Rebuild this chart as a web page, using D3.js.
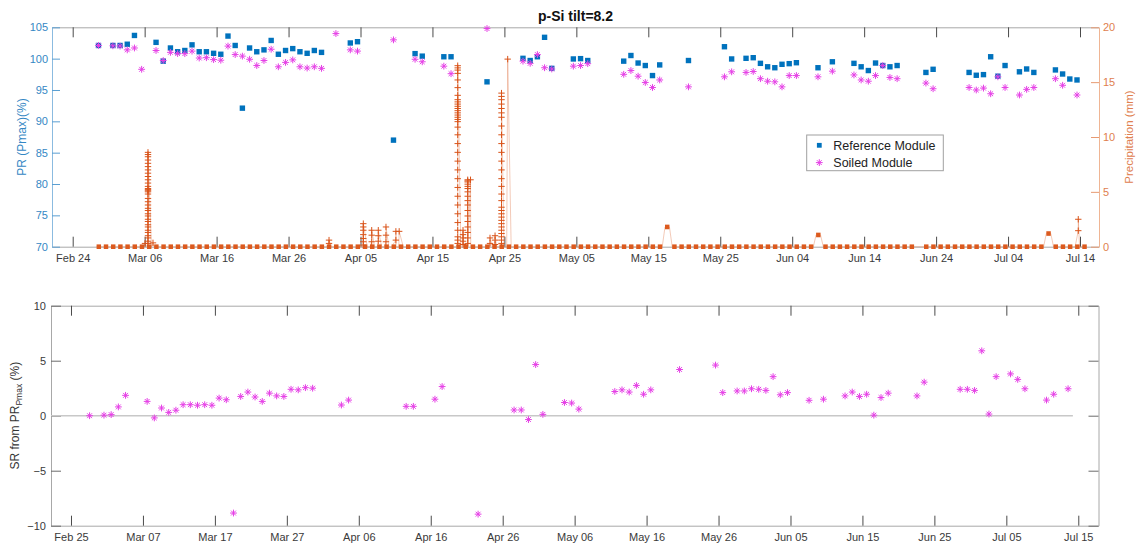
<!DOCTYPE html>
<html>
<head>
<meta charset="utf-8">
<script src="https://cdn.jsdelivr.net/npm/d3@7"></script>
<style>
  body { margin: 0; background: #fff; }
  svg { display: block; }
  text { font-family: "Liberation Sans", Arial, Helvetica, sans-serif; }
</style>
</head>
<body>
<svg id="chart" width="1137" height="544"></svg>
<script>
// ---------------- data ----------------
// daily PR measurements (time of day added below)
const sampleDates = ["2019-02-27","2019-03-01","2019-03-02","2019-03-03","2019-03-04","2019-03-05","2019-03-07","2019-03-08","2019-03-09","2019-03-10","2019-03-11","2019-03-12","2019-03-13","2019-03-14","2019-03-15","2019-03-16","2019-03-17","2019-03-18","2019-03-19","2019-03-20","2019-03-21","2019-03-22","2019-03-23","2019-03-24","2019-03-25","2019-03-26","2019-03-27","2019-03-28","2019-03-29","2019-03-30","2019-04-01","2019-04-03","2019-04-04","2019-04-09","2019-04-12","2019-04-13","2019-04-16","2019-04-17","2019-04-22","2019-04-27","2019-04-28","2019-04-29","2019-04-30","2019-05-01","2019-05-04","2019-05-05","2019-05-06","2019-05-11","2019-05-12","2019-05-13","2019-05-14","2019-05-15","2019-05-16","2019-05-20","2019-05-25","2019-05-26","2019-05-28","2019-05-29","2019-05-30","2019-05-31","2019-06-01","2019-06-02","2019-06-03","2019-06-04","2019-06-07","2019-06-09","2019-06-12","2019-06-13","2019-06-14","2019-06-15","2019-06-16","2019-06-17","2019-06-18","2019-06-22","2019-06-23","2019-06-28","2019-06-29","2019-06-30","2019-07-01","2019-07-02","2019-07-03","2019-07-05","2019-07-06","2019-07-07","2019-07-10","2019-07-11","2019-07-12","2019-07-13"];

const refPR = [102.1,102.1,102.1,102.3,103.7,null,102.6,99.6,101.7,101.1,101.3,102.2,101.1,101.1,100.85,100.7,103.6,102.1,92.1,101.7,101.1,101.4,102.9,100.7,101.3,101.6,101.1,100.85,101.3,101.0,null,102.5,102.7,87.0,100.8,100.4,100.3,100.3,96.3,100.05,99.7,100.3,103.4,98.45,99.95,100.0,99.7,99.6,100.5,99.3,98.9,97.3,99.0,99.7,101.9,99.95,100.05,100.15,99.25,98.7,98.55,99.1,99.2,99.35,98.55,99.5,99.25,98.7,98.1,99.3,98.9,98.7,98.9,97.8,98.3,97.8,97.35,97.45,100.3,97.2,98.9,97.9,98.35,97.8,98.2,97.55,96.75,96.6];

const soiledPR = [102.1,102.05,102.0,101.4,101.7,98.3,101.3,99.7,101.0,100.8,100.8,101.2,100.1,100.15,99.85,99.75,102.0,100.65,100.4,99.9,98.9,99.7,101.5,98.7,99.4,99.8,98.7,98.5,98.7,98.45,104.0,101.4,101.2,103.0,99.9,99.5,98.8,97.6,104.8,99.6,99.25,100.65,98.55,98.35,98.8,98.9,99.2,97.5,98.1,97.2,96.2,95.4,96.6,95.5,97.1,97.9,97.8,97.95,96.8,96.4,96.3,95.5,97.3,97.3,97.1,98.0,97.4,96.6,96.4,97.3,98.9,97.0,96.8,96.1,95.2,95.4,95.0,95.3,94.4,97.1,95.4,94.2,95.1,95.4,96.8,95.75,null,94.2];

// soiling ratio relative to PR_Pmax (%)
const srDates = ["2019-02-27","2019-03-01","2019-03-02","2019-03-03","2019-03-04","2019-03-07","2019-03-08","2019-03-09","2019-03-10","2019-03-11","2019-03-12","2019-03-13","2019-03-14","2019-03-15","2019-03-16","2019-03-17","2019-03-18","2019-03-19","2019-03-20","2019-03-21","2019-03-22","2019-03-23","2019-03-24","2019-03-25","2019-03-26","2019-03-27","2019-03-28","2019-03-29","2019-03-30","2019-04-03","2019-04-04","2019-04-12","2019-04-13","2019-04-16","2019-04-17","2019-04-22","2019-04-27","2019-04-28","2019-04-29","2019-04-30","2019-05-01","2019-05-04","2019-05-05","2019-05-06","2019-05-11","2019-05-12","2019-05-13","2019-05-14","2019-05-15","2019-05-16","2019-05-20","2019-05-25","2019-05-26","2019-05-28","2019-05-29","2019-05-30","2019-05-31","2019-06-01","2019-06-02","2019-06-03","2019-06-04","2019-06-07","2019-06-09","2019-06-12","2019-06-13","2019-06-14","2019-06-15","2019-06-16","2019-06-17","2019-06-18","2019-06-22","2019-06-23","2019-06-28","2019-06-29","2019-06-30","2019-07-01","2019-07-02","2019-07-03","2019-07-05","2019-07-06","2019-07-07","2019-07-10","2019-07-11","2019-07-13"];

const srValues = [0.0,0.05,0.1,0.8,1.85,1.3,-0.2,0.7,0.3,0.5,1.0,1.0,0.95,1.0,0.95,1.6,1.45,-8.85,1.75,2.15,1.7,1.3,2.05,1.8,1.75,2.4,2.35,2.55,2.5,0.97,1.42,0.85,0.85,1.5,2.65,-8.95,0.52,0.52,-0.35,4.65,0.12,1.2,1.15,0.6,2.2,2.35,2.15,2.75,1.95,2.35,4.2,4.6,2.1,2.25,2.25,2.45,2.4,2.3,3.55,1.9,2.1,1.4,1.5,1.8,2.15,1.75,1.95,0.05,1.65,2.05,1.8,3.05,2.4,2.4,2.3,5.9,0.15,3.55,3.8,3.3,2.45,1.42,1.95,2.45];

// precipitation record: one block of readings per day
const precipFirstDay = "2019-02-27";
const precipLastDay = "2019-07-14";
const precipMissingDays = ["2019-06-21"];
const precipLevelDays = ["2019-05-17", "2019-06-07", "2019-07-09"];
const precipLevelValues = [1.8, 1.07, 1.2];

// rain events: readings (mm) logged at the given time
const rainTimes = ["2019-03-06T01:10","2019-03-06T11:10","2019-03-07T03:50","2019-03-31T15:00","2019-04-05T09:20","2019-04-06T13:25","2019-04-07T11:20","2019-04-08T13:00","2019-04-09T22:00","2019-04-10T09:00","2019-04-18T12:15","2019-04-19T06:00","2019-04-19T21:36","2019-04-20T07:00","2019-04-23T00:00","2019-04-23T16:50","2019-04-24T14:20","2019-04-25T11:00","2019-07-13T18:15"];
const rainReadings = [
  [0.3],
  [0.3,0.5,0.8,1.0,1.3,1.5,1.8,2.0,2.3,2.5,2.8,3.0,3.3,3.5,3.8,4.1,4.4,4.8,5.0,5.1,5.2,5.3,5.5,5.8,6.1,6.4,6.7,7.0,7.3,7.6,7.9,8.2,8.4,8.6],
  [0.35],
  [0.3,0.6],
  [0.15,0.45,0.75,1.1,1.5,1.8,2.1],
  [0.45,1.05,1.5],
  [0.5,1.0,1.5],
  [0.45,1.05,1.8],
  [0.6,1.4],
  [1.4],
  [0.3,0.6,0.9,1.5,2.2,3.0,3.8,4.6,5.4,6.2,7.0,7.8,8.6,9.4,10.2,10.9,11.4,11.6,11.8,12.0,12.2,12.4,12.6,12.8,13.0,13.2,13.4,13.8,14.5,15.2,15.8,16.1,16.3,16.5],
  [0.2,0.5,0.8,1.1,1.5],
  [0.3,0.8,1.3,1.8,2.3,2.8,3.3,3.8,4.2,4.6,5.0,5.3,5.5,5.7,5.9,6.0,6.1],
  [6.1],
  [0.3,0.8],
  [0.2,0.6,1.0],
  [0.3,0.6,0.9,1.2,1.5,1.8,2.1,2.4,2.7,3.0,3.3,3.6,4.2,4.8,5.5,6.2,7.0,7.8,8.6,9.4,10.2,11.0,11.8,12.2,12.6,13.0,13.4,13.7,14.0],
  [17.1],
  [1.46,2.5]
];

// axis ticks
const topTickDates = ["2019-02-24","2019-03-06","2019-03-16","2019-03-26","2019-04-05","2019-04-15","2019-04-25","2019-05-05","2019-05-15","2019-05-25","2019-06-04","2019-06-14","2019-06-24","2019-07-04","2019-07-14"];
const bottomTickDates = ["2019-02-25","2019-03-07","2019-03-17","2019-03-27","2019-04-06","2019-04-16","2019-04-26","2019-05-06","2019-05-16","2019-05-26","2019-06-05","2019-06-15","2019-06-25","2019-07-05","2019-07-15"];
const prTicks = [70,75,80,85,90,95,100,105];
const precipTicks = [0,5,10,15,20];
const srTicks = [-10,-5,0,5,10];

// ---------------- helpers ----------------
const DAY = 864e5;
const utc = s => new Date(s.length === 10 ? s + "T00:00:00Z" : s + ":00Z");
const SAMPLE_OFFSET = 14 / 24;          // measurements taken early afternoon
const BLOCK_START = 0.32, BLOCK_END = 0.94; // logging window within a day
const fmt = d3.utcFormat("%b %d");

const C_REF = "#0072BD", C_SOIL = "#e640e6", C_RAIN = "#D95319";
const FONT = '"Liberation Sans", Arial, Helvetica, sans-serif';

const svg = d3.select("#chart");

const squarePath = "M-2.7,-2.7H2.7V2.7H-2.7Z";
const starPath = "M-3.4,0H3.4M0,-3.4V3.4M-2.4,-2.4L2.4,2.4M-2.4,2.4L2.4,-2.4";
const plusPath = "M-3.2,0H3.2M0,-3.2V3.2";

function styleAxis(g, color, size) {
  g.attr("font-family", FONT).attr("font-size", size);
  g.selectAll(".tick text").attr("fill", color);
}

// ---------------- upper panel ----------------
const upBox = { l: 52, r: 1099, t: 27.3, b: 246.7 };
const xTop = d3.scaleUtc()
  .domain([utc("2019-02-21T02:57"), utc("2019-07-16T15:22")])
  .range([upBox.l, upBox.r]);
const yPR = d3.scaleLinear().domain([70, 105]).range([upBox.b, upBox.t]);
const yRain = d3.scaleLinear().domain([0, 20]).range([upBox.b, upBox.t]);

const gTop = svg.append("g");

// frame: top border with inward ticks
gTop.append("g")
  .attr("transform", `translate(0,${upBox.t})`)
  .call(d3.axisTop(xTop).tickValues(topTickDates.map(utc)).tickFormat("").tickSizeInner(-10).tickSizeOuter(0))
  .call(g => g.select(".domain").attr("stroke", "#a8a8a8"))
  .call(g => g.selectAll(".tick line").attr("stroke", "#4a4a4a"));

// x axis
gTop.append("g")
  .attr("transform", `translate(0,${upBox.b})`)
  .call(d3.axisBottom(xTop).tickValues(topTickDates.map(utc)).tickFormat(fmt).tickSizeInner(-10).tickSizeOuter(0).tickPadding(7.5))
  .call(g => styleAxis(g, "#3a3a3a", 11))
  .call(g => g.select(".domain").attr("stroke", "#a8a8a8"))
  .call(g => g.selectAll(".tick line").attr("stroke", "#4a4a4a"));

// left PR axis
gTop.append("g")
  .attr("transform", `translate(${upBox.l},0)`)
  .call(d3.axisLeft(yPR).tickValues(prTicks).tickSizeInner(-8).tickSizeOuter(0).tickPadding(4))
  .call(g => styleAxis(g, "#3487c4", 11))
  .call(g => g.select(".domain").attr("stroke", "#8bbbe0"))
  .call(g => g.selectAll(".tick line").attr("stroke", "#5a9fd2"));

// right precipitation axis
gTop.append("g")
  .attr("transform", `translate(${upBox.r},0)`)
  .call(d3.axisRight(yRain).tickValues(precipTicks).tickSizeInner(-8).tickSizeOuter(0).tickPadding(4))
  .call(g => styleAxis(g, "#e0804f", 11))
  .call(g => g.select(".domain").attr("stroke", "#efb594"))
  .call(g => g.selectAll(".tick line").attr("stroke", "#e79a72"));

// precipitation: daily blocks + event readings joined in time order
const missing = new Set(precipMissingDays);
const levelOf = new Map(precipLevelDays.map((d, i) => [d, precipLevelValues[i]]));
const dayFmt = d3.utcFormat("%Y-%m-%d");
const blockDays = d3.utcDay.range(utc(precipFirstDay), new Date(+utc(precipLastDay) + DAY))
  .filter(d => !missing.has(dayFmt(d)))
  .map(d => ({ day: d, level: levelOf.get(dayFmt(d)) ?? 0 }));

const rainPts = [];
blockDays.forEach(b => {
  rainPts.push({ t: +b.day + BLOCK_START * DAY, v: b.level, k: 0 });
  rainPts.push({ t: +b.day + BLOCK_END * DAY, v: b.level, k: 2 });
});
rainTimes.forEach((s, i) => rainReadings[i].forEach(v => rainPts.push({ t: +utc(s), v, k: 1 })));
rainPts.sort((a, b) => a.t - b.t);

gTop.append("path")
  .datum(rainPts)
  .attr("fill", "none")
  .attr("stroke", C_RAIN)
  .attr("stroke-opacity", 0.35)
  .attr("stroke-width", 0.9)
  .attr("d", d3.line().x(p => xTop(p.t)).y(p => yRain(p.v)));

gTop.append("g").selectAll("rect")
  .data(blockDays)
  .join("rect")
  .attr("x", b => xTop(+b.day + BLOCK_START * DAY))
  .attr("width", b => xTop(+b.day + BLOCK_END * DAY) - xTop(+b.day + BLOCK_START * DAY))
  .attr("y", b => yRain(b.level) - 2.3)
  .attr("height", 4.6)
  .attr("fill", "#dc5a1e");

gTop.append("g").selectAll("path")
  .data(rainPts.filter(p => p.k === 1))
  .join("path")
  .attr("transform", p => `translate(${xTop(p.t)},${yRain(p.v)})`)
  .attr("d", plusPath)
  .attr("stroke", C_RAIN)
  .attr("stroke-width", 1)
  .attr("fill", "none");

// PR markers
const samples = sampleDates.map((s, i) => ({ t: +utc(s) + SAMPLE_OFFSET * DAY, ref: refPR[i], soil: soiledPR[i] }));

gTop.append("g").selectAll("path")
  .data(samples.filter(d => d.ref != null))
  .join("path")
  .attr("transform", d => `translate(${xTop(d.t)},${yPR(d.ref)})`)
  .attr("d", squarePath)
  .attr("fill", C_REF);

gTop.append("g").selectAll("path")
  .data(samples.filter(d => d.soil != null))
  .join("path")
  .attr("transform", d => `translate(${xTop(d.t)},${yPR(d.soil)})`)
  .attr("d", starPath)
  .attr("stroke", C_SOIL)
  .attr("stroke-width", 1)
  .attr("fill", "none");

// titles
svg.append("text")
  .attr("x", (upBox.l + upBox.r) / 2).attr("y", 20.5)
  .attr("text-anchor", "middle")
  .attr("font-size", 14).attr("font-weight", "bold").attr("fill", "#111")
  .text("p-Si tilt=8.2");

svg.append("text")
  .attr("transform", `translate(26,${(upBox.t + upBox.b) / 2}) rotate(-90)`)
  .attr("text-anchor", "middle")
  .attr("font-size", 12).attr("fill", "#3487c4")
  .text("PR (Pmax)(%)");

svg.append("text")
  .attr("transform", `translate(1133,${(upBox.t + upBox.b) / 2}) rotate(-90)`)
  .attr("text-anchor", "middle")
  .attr("font-size", 11.5).attr("fill", "#e0804f")
  .text("Precipitation (mm)");

// legend
const lg = svg.append("g").attr("transform", "translate(806.7,135)");
lg.append("rect").attr("width", 136.6).attr("height", 35.7)
  .attr("fill", "#fff").attr("stroke", "#a0a0a0").attr("stroke-width", 1);
lg.append("path").attr("transform", "translate(12.6,10.3)").attr("d", "M-2.4,-2.4H2.4V2.4H-2.4Z").attr("fill", C_REF);
lg.append("path").attr("transform", "translate(12.6,27.6)").attr("d", starPath)
  .attr("stroke", C_SOIL).attr("stroke-width", 1).attr("fill", "none");
lg.append("text").attr("x", 26.6).attr("y", 14.6).attr("font-size", 12.5).attr("fill", "#222").text("Reference Module");
lg.append("text").attr("x", 26.6).attr("y", 32).attr("font-size", 12.5).attr("fill", "#222").text("Soiled Module");

// ---------------- lower panel ----------------
const lowBox = { l: 51, r: 1098.5, t: 305.7, b: 525.7 };
const xBot = d3.scaleUtc()
  .domain([utc("2019-02-22T05:18"), utc("2019-07-17T19:26")])
  .range([lowBox.l, lowBox.r]);
const ySR = d3.scaleLinear().domain([-10, 10]).range([lowBox.b, lowBox.t]);

const gBot = svg.append("g");

gBot.append("g")
  .attr("transform", `translate(0,${lowBox.t})`)
  .call(d3.axisTop(xBot).tickValues(bottomTickDates.map(utc)).tickFormat("").tickSizeInner(-10).tickSizeOuter(0))
  .call(g => g.select(".domain").attr("stroke", "#a8a8a8"))
  .call(g => g.selectAll(".tick line").attr("stroke", "#4a4a4a"));

gBot.append("g")
  .attr("transform", `translate(0,${lowBox.b})`)
  .call(d3.axisBottom(xBot).tickValues(bottomTickDates.map(utc)).tickFormat(fmt).tickSizeInner(-10).tickSizeOuter(0).tickPadding(8))
  .call(g => styleAxis(g, "#3a3a3a", 11))
  .call(g => g.select(".domain").attr("stroke", "#a8a8a8"))
  .call(g => g.selectAll(".tick line").attr("stroke", "#4a4a4a"));

gBot.append("g")
  .attr("transform", `translate(${lowBox.l},0)`)
  .call(d3.axisLeft(ySR).tickValues(srTicks).tickSizeInner(-10).tickSizeOuter(0).tickPadding(5))
  .call(g => styleAxis(g, "#3a3a3a", 11))
  .call(g => g.select(".domain").attr("stroke", "#a8a8a8"))
  .call(g => g.selectAll(".tick line").attr("stroke", "#6a6a6a"));

gBot.append("g")
  .attr("transform", `translate(${lowBox.r},0)`)
  .call(d3.axisRight(ySR).tickValues(srTicks).tickFormat("").tickSizeInner(-10).tickSizeOuter(0))
  .call(g => g.select(".domain").attr("stroke", "#a8a8a8"))
  .call(g => g.selectAll(".tick line").attr("stroke", "#6a6a6a"));

// zero reference line
gBot.append("line")
  .attr("x1", xBot(xBot.domain()[0])).attr("x2", xBot(utc("2019-07-14T06:00")))
  .attr("y1", ySR(0)).attr("y2", ySR(0))
  .attr("stroke", "#c8c8c8").attr("stroke-width", 1.5);

gBot.append("g").selectAll("path")
  .data(srDates.map((s, i) => ({ t: +utc(s) + SAMPLE_OFFSET * DAY, v: srValues[i] })))
  .join("path")
  .attr("transform", d => `translate(${xBot(d.t)},${ySR(d.v)})`)
  .attr("d", starPath)
  .attr("stroke", C_SOIL)
  .attr("stroke-width", 1)
  .attr("fill", "none");

const yl = svg.append("text")
  .attr("transform", `translate(18.5,${(lowBox.t + lowBox.b) / 2}) rotate(-90)`)
  .attr("text-anchor", "middle")
  .attr("font-size", 12).attr("fill", "#333");
yl.append("tspan").text("SR from PR");
yl.append("tspan").attr("dy", 3).attr("font-size", 8.5).text("Pmax");
yl.append("tspan").attr("dy", -3).text(" (%)");
</script>
</body>
</html>
